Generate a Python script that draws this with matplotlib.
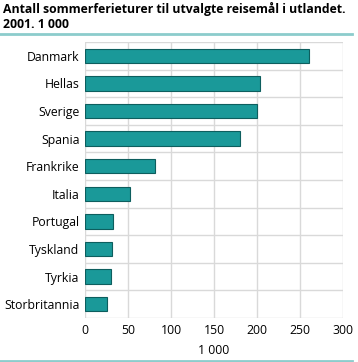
import matplotlib.pyplot as plt
from matplotlib.lines import Line2D

countries = ["Danmark", "Hellas", "Sverige", "Spania", "Frankrike",
             "Italia", "Portugal", "Tyskland", "Tyrkia", "Storbritannia"]
trips = [260, 203, 200, 180, 81, 52, 32, 31, 30, 26]
xticks = [0, 50, 100, 150, 200, 250, 300]

plt.rcParams['font.family'] = ['Open Sans', 'DejaVu Sans']

fig = plt.figure(figsize=(3.58, 3.62), dpi=100)
ax = fig.add_axes([85/358, 44/362, 258/358, 276/362])

n = len(countries)
ypos = list(range(n))[::-1]
ax.barh(ypos, trips, height=0.52, color="#1a9999", edgecolor="#0d5e5e", linewidth=0.8, zorder=3)

ax.set_xlim(0, 300)
ax.set_ylim(-0.5, n - 0.5)
ax.set_xticks(xticks)
ax.set_xticklabels([str(t) for t in xticks], fontsize=8.8)
ax.set_yticks(ypos)
ax.set_yticklabels(countries, fontsize=8.8)
ax.set_yticks([y + 0.5 for y in range(-1, n)], minor=True)
ax.tick_params(axis="both", length=0, pad=4)
ax.tick_params(which="minor", length=0)
ax.grid(axis="x", color="#d9d9d9", linewidth=1, zorder=0)
ax.grid(axis="y", which="minor", color="#d9d9d9", linewidth=1, zorder=0)
for s in ax.spines.values():
    s.set_visible(False)
ax.set_xlabel("1 000", fontsize=8.8, labelpad=5)

fig.text(3/358, 1 - 2/362, "Antall sommerferieturer til utvalgte reisemål i utlandet.\n2001. 1 000",
         fontsize=8.8, fontweight="bold", va="top", ha="left", linespacing=1.25)
fig.add_artist(Line2D([0, 352/358], [1 - 33.5/362] * 2, color="#8ccccc", linewidth=2))
fig.add_artist(Line2D([0, 352/358], [1 - 360.5/362] * 2, color="#8ccccc", linewidth=2))

fig.savefig("out.png", dpi=100)
